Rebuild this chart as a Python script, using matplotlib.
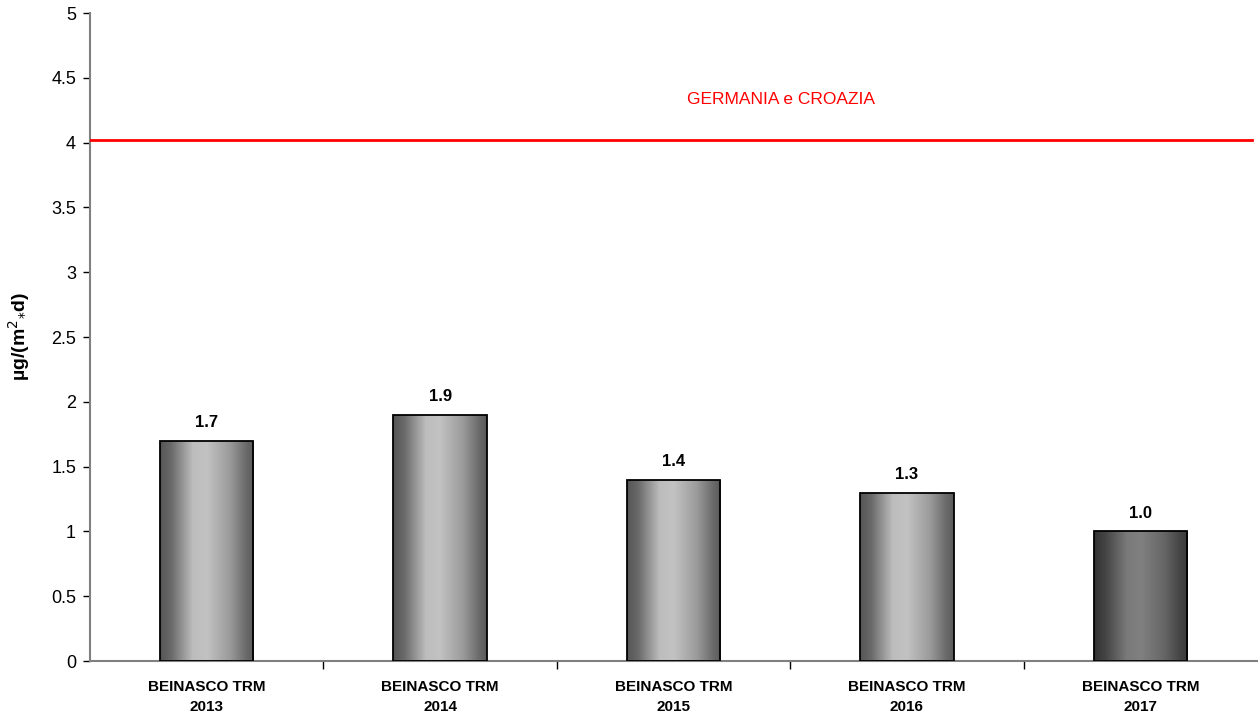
import numpy as np
import matplotlib
matplotlib.use("Agg")
import matplotlib.pyplot as plt
from matplotlib.colors import LinearSegmentedColormap

plt.rcParams['font.family'] = ['Liberation Sans', 'DejaVu Sans']

stations = ["BEINASCO TRM\n2013", "BEINASCO TRM\n2014", "BEINASCO TRM\n2015",
            "BEINASCO TRM\n2016", "BEINASCO TRM\n2017"]
values = [1.7, 1.9, 1.4, 1.3, 1.0]
labels = ["1.7", "1.9", "1.4", "1.3", "1.0"]
ref_value = 4.02
ref_label = "GERMANIA e CROAZIA"
yticks = [0, 0.5, 1, 1.5, 2, 2.5, 3, 3.5, 4, 4.5, 5]
ytick_labels = ["0", "0.5", "1", "1.5", "2", "2.5", "3", "3.5", "4", "4.5", "5"]

fig = plt.figure(figsize=(12.58, 7.13), dpi=100)
ax = fig.add_axes([90 / 1258, 1 - 661 / 713, (1257 - 90) / 1258, (661 - 13) / 713])

light_cmap = LinearSegmentedColormap.from_list(
    "cyl_light", [(0.0, "#555555"), (0.12, "#6a6a6a"), (0.35, "#bdbdbd"),
                  (0.5, "#c2c2c2"), (0.75, "#9a9a9a"), (0.92, "#6a6a6a"), (1.0, "#5a5a5a")])
dark_cmap = LinearSegmentedColormap.from_list(
    "cyl_dark", [(0.0, "#333333"), (0.12, "#444444"), (0.35, "#7a7a7a"),
                 (0.5, "#808080"), (0.75, "#666666"), (0.92, "#444444"), (1.0, "#3a3a3a")])

width = 0.4
x = np.arange(len(values))
bars = ax.bar(x, values, width=width, facecolor="none", edgecolor="black", linewidth=1.3, zorder=3)
grad = np.linspace(0, 1, 256).reshape(1, -1)
for i, (b, v) in enumerate(zip(bars, values)):
    cmap = dark_cmap if i == len(values) - 1 else light_cmap
    im = ax.imshow(grad, cmap=cmap, aspect="auto", interpolation="bicubic",
                   extent=[b.get_x(), b.get_x() + b.get_width(), 0, v], zorder=2)
    im.set_clip_path(b)
    ax.text(b.get_x() + b.get_width() / 2, v + 0.08, labels[i], ha="center", va="bottom",
            fontsize=12, fontweight="bold")

ax.axhline(ref_value, xmin=0, xmax=(1252 - 90) / (1257 - 90), color="#ff0000", linewidth=2, zorder=4)
ax.text(2.46, 4.33, ref_label, color="#ff0000", fontsize=12.5, ha="center", va="center")

ax.set_xlim(-0.5, len(values) - 0.5)
ax.set_ylim(0, 5)
ax.set_yticks(yticks)
ax.set_yticklabels(ytick_labels, fontsize=13)
ax.set_xticks(x)
ax.set_xticklabels(stations, fontsize=11, fontweight="bold", linespacing=1.5)
ax.tick_params(axis="x", length=0, pad=14)
ax.set_xticks(np.arange(len(values) - 1) + 0.5, minor=True)
ax.tick_params(axis="x", which="minor", length=6, color="black", width=1)
ax.tick_params(axis="y", length=5, color="black", width=1, pad=5)

for side in ["top", "right"]:
    ax.spines[side].set_visible(False)
ax.spines["left"].set_color("#808080")
ax.spines["bottom"].set_color("#808080")
ax.spines["left"].set_linewidth(1.5)
ax.spines["bottom"].set_linewidth(1.5)

ax.set_ylabel(r"µg/(m$^{2}$$_{*}$d)", fontsize=14, fontweight="bold", labelpad=14)

fig.savefig("out.png", dpi=100)
